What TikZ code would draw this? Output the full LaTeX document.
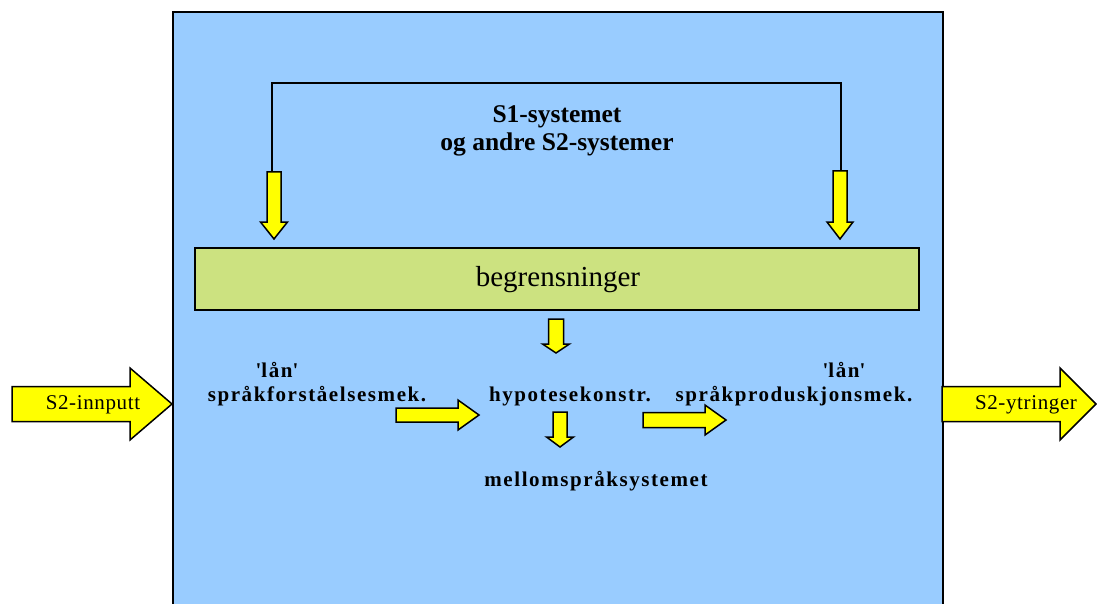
\documentclass[tikz,border=0pt]{standalone}
\usepackage{fontspec}
\setmainfont{Liberation Serif}
\definecolor{bluebg}{RGB}{153,204,255}
\definecolor{greenbox}{RGB}{204,226,128}
\definecolor{arrowyellow}{RGB}{255,255,0}
\newcommand{\spaced}{\bfseries\fontsize{21}{24}\selectfont\addfontfeature{LetterSpace=7.5}}
\newcommand{\downarr}[7]{% name, cx, y0, y1, sw, hw, hl
  \draw[blockarrow] ({#2-#5},#3) coordinate (#1) -- ({#2+#5},#3) -- ({#2+#5},{#4-#7}) -- ({#2+#6},{#4-#7}) -- (#2,#4) -- ({#2-#6},{#4-#7}) -- ({#2-#5},{#4-#7}) -- cycle;}
\newcommand{\rightarr}[7]{% name, cy, x0, x1, sw, hw, hl
  \draw[blockarrow] (#3,{#2-#5}) coordinate (#1) -- ({#4-#7},{#2-#5}) -- ({#4-#7},{#2-#6}) -- (#4,#2) -- ({#4-#7},{#2+#6}) -- ({#4-#7},{#2+#5}) -- (#3,{#2+#5}) -- cycle;}
\begin{document}
\begin{tikzpicture}[x=1pt,y=-1pt,
  blockarrow/.style={draw=black,line width=1.5pt,fill=arrowyellow,line join=miter},
  lbl/.style={inner sep=0pt,anchor=center},
  sidelbl/.style={lbl,font=\fontsize{21}{24}\selectfont\addfontfeature{LetterSpace=3}}]
\useasboundingbox (0,0) rectangle (1097,604);
\fill[white] (0,0) rectangle (1097,604);
% main blue area
\draw[fill=bluebg,line width=1.5pt] (173,12) rectangle (943,640);
% bracket line
\coordinate (bl) at (272,83);
\coordinate (br) at (841,83);
% green box
\node[draw=black,line width=1.8pt,fill=greenbox,minimum width=724pt,minimum height=62pt,inner sep=0pt] (begr) at (557,279) {};
\node[lbl,font=\fontsize{29}{34}\selectfont] (begrtxt) at (558,280) {begrensninger};
% title
\node[lbl,align=center,font=\bfseries\fontsize{25.5}{28}\selectfont] (title) at (557,131) {S1-systemet\\og andre S2-systemer};
% down arrows from bracket
\downarr{dal}{274}{172}{239}{7}{13.5}{17}
\downarr{dar}{840}{171}{239}{7}{13}{17}
\draw[line width=1.3pt] (dal-|bl) -- (bl) -- (br) -- (dar-|br);
% inner texts
\node[lbl,font=\spaced] (lan1) at (277,370) {\textquotesingle lån\textquotesingle};
\node[lbl,font=\spaced] (forst) at (317,396) {språkforståelsesmek.};
\node[lbl,font=\spaced] (hyp) at (570,396) {hypotesekonstr.};
\node[lbl,font=\spaced] (mell) at (596,481) {mellomspråksystemet};
\node[lbl,font=\spaced] (lan2) at (844,370) {\textquotesingle lån\textquotesingle};
\node[lbl,font=\spaced] (prod) at (794,396) {språkproduskjonsmek.};
% small arrows
\downarr{d1}{556}{319}{353}{7.5}{13.5}{9}
\downarr{d2}{560}{412}{447}{7}{13.5}{10}
\rightarr{r1}{415}{396}{479}{7}{15}{21}
\rightarr{r2}{420}{643}{726}{7.5}{15}{21}
% big side arrows
\rightarr{inn}{404}{12}{172}{17.5}{36}{42}
\rightarr{ut}{404}{942}{1096}{17.5}{36}{36}
\node[sidelbl] (inntxt) at (93,405) {S2-innputt};
\node[sidelbl] (uttxt) at (1026,405) {S2-ytringer};
\end{tikzpicture}
\end{document}
